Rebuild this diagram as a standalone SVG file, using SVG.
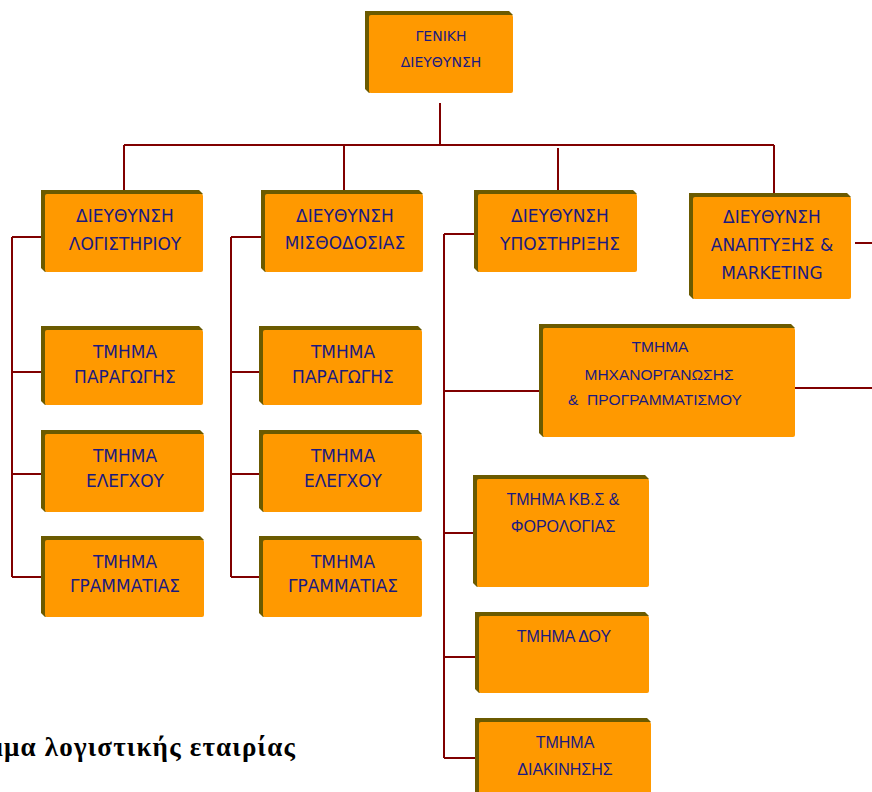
<svg xmlns="http://www.w3.org/2000/svg" width="872" height="792" viewBox="0 0 872 792">
<style>
.side{fill:#6B5A00}
.face{fill:#FF9900}
.t{font-family:"DejaVu Sans",Verdana,sans-serif;font-size:17px;fill:#1A1A80;text-anchor:middle}
.ts{font-family:"DejaVu Sans",Verdana,sans-serif;font-size:14px;fill:#1A1A80;text-anchor:middle}
.c{font-family:"Liberation Sans",Arial,sans-serif;font-size:16px;fill:#1A1A80;text-anchor:middle}
.cm{font-family:"Liberation Sans",Arial,sans-serif;font-size:15.5px;fill:#1A1A80;text-anchor:middle}
.ln{stroke:#800000;stroke-width:2;fill:none}
.cap{font-family:"Liberation Serif","Times New Roman",serif;font-size:27px;font-weight:bold;fill:#000;letter-spacing:1.2px}
</style>
<rect width="872" height="792" fill="#FFFFFF"/>
<g id="connectors">
<path class="ln" d="M440 103V145M124 145H774M124 145V194M344 145V194M558 148V194M774 145V197"/>
<path class="ln" d="M12 237V577M12 237H41M12 372H41M12 474H41M12 577H41"/>
<path class="ln" d="M231 237V577M231 237H261M231 372H259M231 474H259M231 577H259"/>
<path class="ln" d="M444 234V758M444 234H474M444 391H539M444 533H473M444 657H475M444 758H475"/>
<path class="ln" d="M855 243H872M795 388H872"/>
</g>
<g id="n-geniki">
<polygon class="side" points="365,11 509,11 513,15 369,93 365,89"/>
<rect class="face" x="369" y="15" width="144" height="78" rx="2"/>
<text class="ts" x="441" y="41">ΓΕΝΙΚΗ</text>
<text class="ts" x="441" y="67">ΔΙΕΥΘΥΝΣΗ</text>
</g>
<g id="n-logistiriou">
<polygon class="side" points="41,190 199,190 203,194 45,272 41,268"/>
<rect class="face" x="45" y="194" width="158" height="78" rx="2"/>
<text class="t" x="125" y="222">ΔΙΕΥΘΥΝΣΗ</text>
<text class="t" x="125" y="250">ΛΟΓΙΣΤΗΡΙΟΥ</text>
</g>
<g id="n-misthodosias">
<polygon class="side" points="261,190 419,190 423,194 265,272 261,268"/>
<rect class="face" x="265" y="194" width="158" height="78" rx="2"/>
<text class="t" x="345" y="222">ΔΙΕΥΘΥΝΣΗ</text>
<text class="t" x="345" y="249">ΜΙΣΘΟΔΟΣΙΑΣ</text>
</g>
<g id="n-ypostirixis">
<polygon class="side" points="474,190 633,190 637,194 478,272 474,268"/>
<rect class="face" x="478" y="194" width="159" height="78" rx="2"/>
<text class="t" x="560" y="222">ΔΙΕΥΘΥΝΣΗ</text>
<text class="t" x="560" y="250">ΥΠΟΣΤΗΡΙΞΗΣ</text>
</g>
<g id="n-anaptyxis">
<polygon class="side" points="689,193 847,193 851,197 693,299 689,295"/>
<rect class="face" x="693" y="197" width="158" height="102" rx="2"/>
<text class="t" x="772" y="223">ΔΙΕΥΘΥΝΣΗ</text>
<text class="t" x="772" y="251">ΑΝΑΠΤΥΞΗΣ &amp;</text>
<text class="t" x="772" y="279">MARKETING</text>
</g>
<g id="n-c1-paragogis">
<polygon class="side" points="41,326 199,326 203,330 45,405 41,401"/>
<rect class="face" x="45" y="330" width="158" height="75" rx="2"/>
<text class="t" x="125" y="358">ΤΜΗΜΑ</text>
<text class="t" x="125" y="383">ΠΑΡΑΓΩΓΗΣ</text>
</g>
<g id="n-c1-elegxou">
<polygon class="side" points="41,430 200,430 204,434 45,512 41,508"/>
<rect class="face" x="45" y="434" width="159" height="78" rx="2"/>
<text class="t" x="125" y="462">ΤΜΗΜΑ</text>
<text class="t" x="125" y="487">ΕΛΕΓΧΟΥ</text>
</g>
<g id="n-c1-grammatias">
<polygon class="side" points="41,536 200,536 204,540 45,617 41,613"/>
<rect class="face" x="45" y="540" width="159" height="77" rx="2"/>
<text class="t" x="125" y="568">ΤΜΗΜΑ</text>
<text class="t" x="125" y="592">ΓΡΑΜΜΑΤΙΑΣ</text>
</g>
<g id="n-c2-paragogis">
<polygon class="side" points="259,326 418,326 422,330 263,405 259,401"/>
<rect class="face" x="263" y="330" width="159" height="75" rx="2"/>
<text class="t" x="343" y="358">ΤΜΗΜΑ</text>
<text class="t" x="343" y="383">ΠΑΡΑΓΩΓΗΣ</text>
</g>
<g id="n-c2-elegxou">
<polygon class="side" points="259,430 418,430 422,434 263,512 259,508"/>
<rect class="face" x="263" y="434" width="159" height="78" rx="2"/>
<text class="t" x="343" y="462">ΤΜΗΜΑ</text>
<text class="t" x="343" y="487">ΕΛΕΓΧΟΥ</text>
</g>
<g id="n-c2-grammatias">
<polygon class="side" points="259,536 418,536 422,540 263,617 259,613"/>
<rect class="face" x="263" y="540" width="159" height="77" rx="2"/>
<text class="t" x="343" y="568">ΤΜΗΜΑ</text>
<text class="t" x="343" y="592">ΓΡΑΜΜΑΤΙΑΣ</text>
</g>
<g id="n-mixanorganosis">
<polygon class="side" points="539,324 791,324 795,328 543,437 539,433"/>
<rect class="face" x="543" y="328" width="252" height="109" rx="2"/>
<text class="cm" x="660" y="352">ΤΜΗΜΑ</text>
<text class="cm" x="659" y="380">ΜΗΧΑΝΟΡΓΑΝΩΣΗΣ</text>
<text class="cm" x="655" y="405" xml:space="preserve">&amp;  ΠΡΟΓΡΑΜΜΑΤΙΣΜΟΥ</text>
</g>
<g id="n-kbs">
<polygon class="side" points="473,475 645,475 649,479 477,587 473,583"/>
<rect class="face" x="477" y="479" width="172" height="108" rx="2"/>
<text class="c" x="563" y="505">ΤΜΗΜΑ ΚΒ.Σ &amp;</text>
<text class="c" x="563" y="532">ΦΟΡΟΛΟΓΙΑΣ</text>
</g>
<g id="n-doy">
<polygon class="side" points="475,612 645,612 649,616 479,693 475,689"/>
<rect class="face" x="479" y="616" width="170" height="77" rx="2"/>
<text class="c" x="564" y="642">ΤΜΗΜΑ ΔΟΥ</text>
</g>
<g id="n-diakinisis">
<polygon class="side" points="475,718 647,718 651,722 479,800 475,796"/>
<rect class="face" x="479" y="722" width="172" height="80" rx="2"/>
<text class="c" x="565" y="748">ΤΜΗΜΑ</text>
<text class="c" x="565" y="775">ΔΙΑΚΙΝΗΣΗΣ</text>
</g>
<text class="cap" x="296" y="756" text-anchor="end">Οργανόγραμμα λογιστικής εταιρίας</text>
</svg>
